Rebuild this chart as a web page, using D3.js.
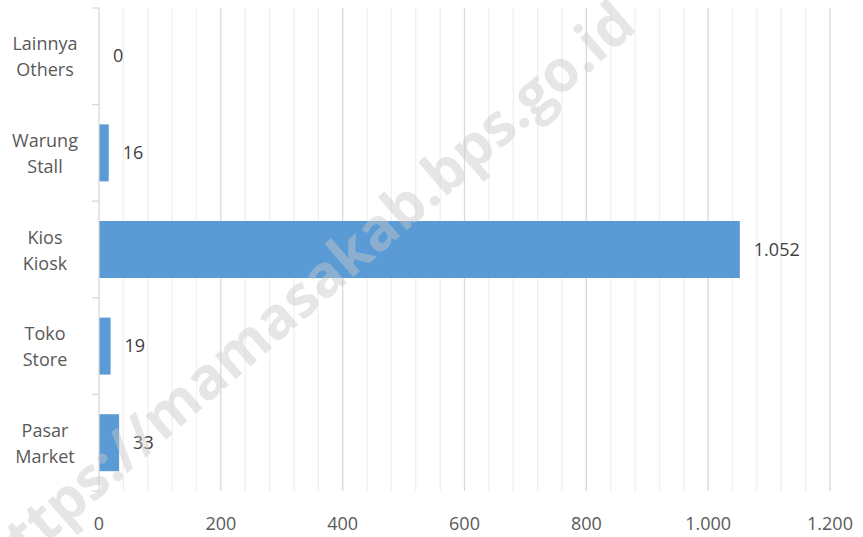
<!DOCTYPE html>
<html>
<head>
<meta charset="utf-8">
<script src="https://cdn.jsdelivr.net/npm/d3@7"></script>
<style>
  body { margin: 0; background: #fff; }
  text { font-family: "Open Sans", "Liberation Sans", sans-serif; }
</style>
</head>
<body>
<script>
// categories top to bottom as drawn, two-line labels
var categories = ["Lainnya|Others", "Warung|Stall", "Kios|Kiosk", "Toko|Store", "Pasar|Market"];
var values = [0, 16, 1052, 19, 33];
var xTicks = [0, 200, 400, 600, 800, 1000, 1200];

var width = 863, height = 537;
var margin = { top: 8, right: 33, bottom: 46, left: 99 };

var svg = d3.select("body").append("svg")
    .attr("width", width)
    .attr("height", height);

var id = d3.formatLocale({ decimal: ",", thousands: ".", grouping: [3], currency: ["", ""] });
var fmt = id.format(",d");

var x = d3.scaleLinear()
    .domain([0, 1200])
    .range([margin.left, width - margin.right]);

var y = d3.scaleBand()
    .domain(categories)
    .range([margin.top, height - margin.bottom])
    .paddingInner(0.41)
    .paddingOuter(0.205);

var yBounds = d3.scaleLinear()
    .domain([0, categories.length])
    .range([margin.top, height - margin.bottom]);

// minor gridlines every 40
var g = svg.append("g");
g.selectAll(".minor")
    .data(d3.range(40, 1201, 40).filter(function(d) { return d % 200 !== 0; }))
    .enter().append("line")
    .attr("x1", function(d) { return x(d); })
    .attr("x2", function(d) { return x(d); })
    .attr("y1", margin.top)
    .attr("y2", height - margin.bottom)
    .style("stroke", "#f0f0f0")
    .style("stroke-width", 1.3);

g.selectAll(".major")
    .data(xTicks.slice(1))
    .enter().append("line")
    .attr("x1", function(d) { return x(d); })
    .attr("x2", function(d) { return x(d); })
    .attr("y1", margin.top)
    .attr("y2", height - margin.bottom)
    .style("stroke", "#d9d9d9")
    .style("stroke-width", 1.3);

// bars
svg.selectAll(".bar")
    .data(values)
    .enter().append("rect")
    .attr("class", "bar")
    .attr("x", x(0))
    .attr("y", function(d, i) { return y(categories[i]); })
    .attr("width", function(d) { return x(d) - x(0); })
    .attr("height", y.bandwidth())
    .style("fill", "#5b9bd5");

// y axis line + ticks
svg.append("line")
    .attr("x1", x(0)).attr("x2", x(0))
    .attr("y1", margin.top).attr("y2", height - margin.bottom)
    .style("stroke", "#d9d9d9").style("stroke-width", 1.3);

svg.selectAll(".ytick")
    .data(d3.range(categories.length + 1))
    .enter().append("line")
    .attr("x1", x(0) - 7).attr("x2", x(0))
    .attr("y1", function(d) { return yBounds(d); })
    .attr("y2", function(d) { return yBounds(d); })
    .style("stroke", "#d9d9d9").style("stroke-width", 1.3);

// category labels
svg.selectAll(".cat")
    .data(categories)
    .enter().append("text")
    .attr("text-anchor", "middle")
    .style("font-size", "18px")
    .style("fill", "#595959")
    .each(function(d) {
        var parts = d.split("|");
        var cy = y(d) + y.bandwidth() / 2;
        d3.select(this).append("tspan")
            .attr("x", 45).attr("y", cy - 6).text(parts[0]);
        d3.select(this).append("tspan")
            .attr("x", 45).attr("y", cy + 20).text(parts[1]);
    });

// value labels
svg.selectAll(".val")
    .data(values)
    .enter().append("text")
    .attr("x", function(d) { return x(d) + 14; })
    .attr("y", function(d, i) { return y(categories[i]) + y.bandwidth() / 2 + 6; })
    .style("font-size", "18px")
    .style("fill", "#404040")
    .text(function(d) { return fmt(d); });

// x tick labels
svg.selectAll(".xlab")
    .data(xTicks)
    .enter().append("text")
    .attr("x", function(d) { return x(d); })
    .attr("y", 530)
    .attr("text-anchor", "middle")
    .style("font-size", "18px")
    .style("fill", "#595959")
    .text(function(d) { return fmt(d); });

// watermark
svg.append("text")
    .attr("transform", "translate(305,292) rotate(-41)")
    .attr("text-anchor", "middle")
    .attr("dy", "0.35em")
    .style("font-size", "58px")
    .style("font-weight", "bold")
    .style("fill", "#c8c8c8")
    .style("fill-opacity", 0.45)
    .text("https://mamasakab.bps.go.id");
</script>
</body>
</html>
